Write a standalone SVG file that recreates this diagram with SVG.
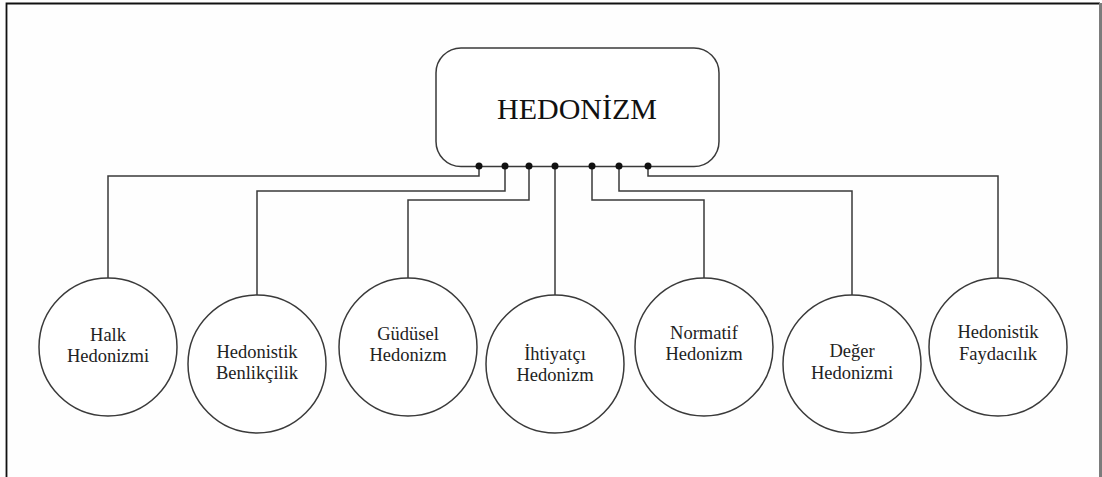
<svg xmlns="http://www.w3.org/2000/svg" width="1102" height="477" viewBox="0 0 1102 477">
<style>
.ln{fill:none;stroke:#3a3a3a;stroke-width:1.5}
.nd{fill:#fff;stroke:#3a3a3a;stroke-width:1.5}
.t{font-family:"Liberation Serif",serif;font-size:18.5px;fill:#222;text-anchor:middle}
.tt{font-family:"Liberation Serif",serif;font-size:30px;fill:#111;text-anchor:middle}
.dot{fill:#111}
</style>
<rect x="0" y="0" width="1102" height="477" fill="#fefefe"/>
<g id="frame">
<path d="M6.5 477 V3.5 H1100" fill="none" stroke="#111" stroke-width="1.8"/>
<rect x="1099" y="3" width="3" height="474" fill="#7c7c7c"/>
</g>
<g id="connectors">
<path class="ln" d="M479 166 V176 H108 V278"/>
<path class="ln" d="M505 166 V191 H257 V295"/>
<path class="ln" d="M529 166 V200 H408 V278"/>
<path class="ln" d="M555 166 V295"/>
<path class="ln" d="M592 166 V200 H704 V278"/>
<path class="ln" d="M619 166 V191 H852 V295"/>
<path class="ln" d="M648 166 V176 H998 V278"/>
</g>
<g id="hedonizm">
<rect class="nd" x="436" y="48" width="283" height="118.5" rx="25" ry="25"/>
<text class="tt" x="577" y="119">HEDONİZM</text>
<circle class="dot" cx="479" cy="166" r="3.5"/>
<circle class="dot" cx="505" cy="166" r="3.5"/>
<circle class="dot" cx="529" cy="166" r="3.5"/>
<circle class="dot" cx="555" cy="166" r="3.5"/>
<circle class="dot" cx="592" cy="166" r="3.5"/>
<circle class="dot" cx="619" cy="166" r="3.5"/>
<circle class="dot" cx="648" cy="166" r="3.5"/>
</g>
<g id="halk">
<circle class="nd" cx="108" cy="347" r="69"/>
<text class="t" x="108" y="341">Halk</text>
<text class="t" x="108" y="362">Hedonizmi</text>
</g>
<g id="benlikcilik">
<circle class="nd" cx="257" cy="364" r="69"/>
<text class="t" x="257" y="358">Hedonistik</text>
<text class="t" x="257" y="379">Benlikçilik</text>
</g>
<g id="gudusel">
<circle class="nd" cx="408" cy="347" r="69"/>
<text class="t" x="408" y="340">Güdüsel</text>
<text class="t" x="408" y="361">Hedonizm</text>
</g>
<g id="ihtiyatci">
<circle class="nd" cx="555" cy="364" r="69"/>
<text class="t" x="555" y="360">İhtiyatçı</text>
<text class="t" x="555" y="381">Hedonizm</text>
</g>
<g id="normatif">
<circle class="nd" cx="704" cy="347" r="69"/>
<text class="t" x="704" y="339">Normatif</text>
<text class="t" x="704" y="360">Hedonizm</text>
</g>
<g id="deger">
<circle class="nd" cx="852" cy="364" r="69"/>
<text class="t" x="852" y="357">Değer</text>
<text class="t" x="852" y="379">Hedonizmi</text>
</g>
<g id="faydacilik">
<circle class="nd" cx="998" cy="347" r="69"/>
<text class="t" x="998" y="338">Hedonistik</text>
<text class="t" x="998" y="360">Faydacılık</text>
</g>
</svg>
